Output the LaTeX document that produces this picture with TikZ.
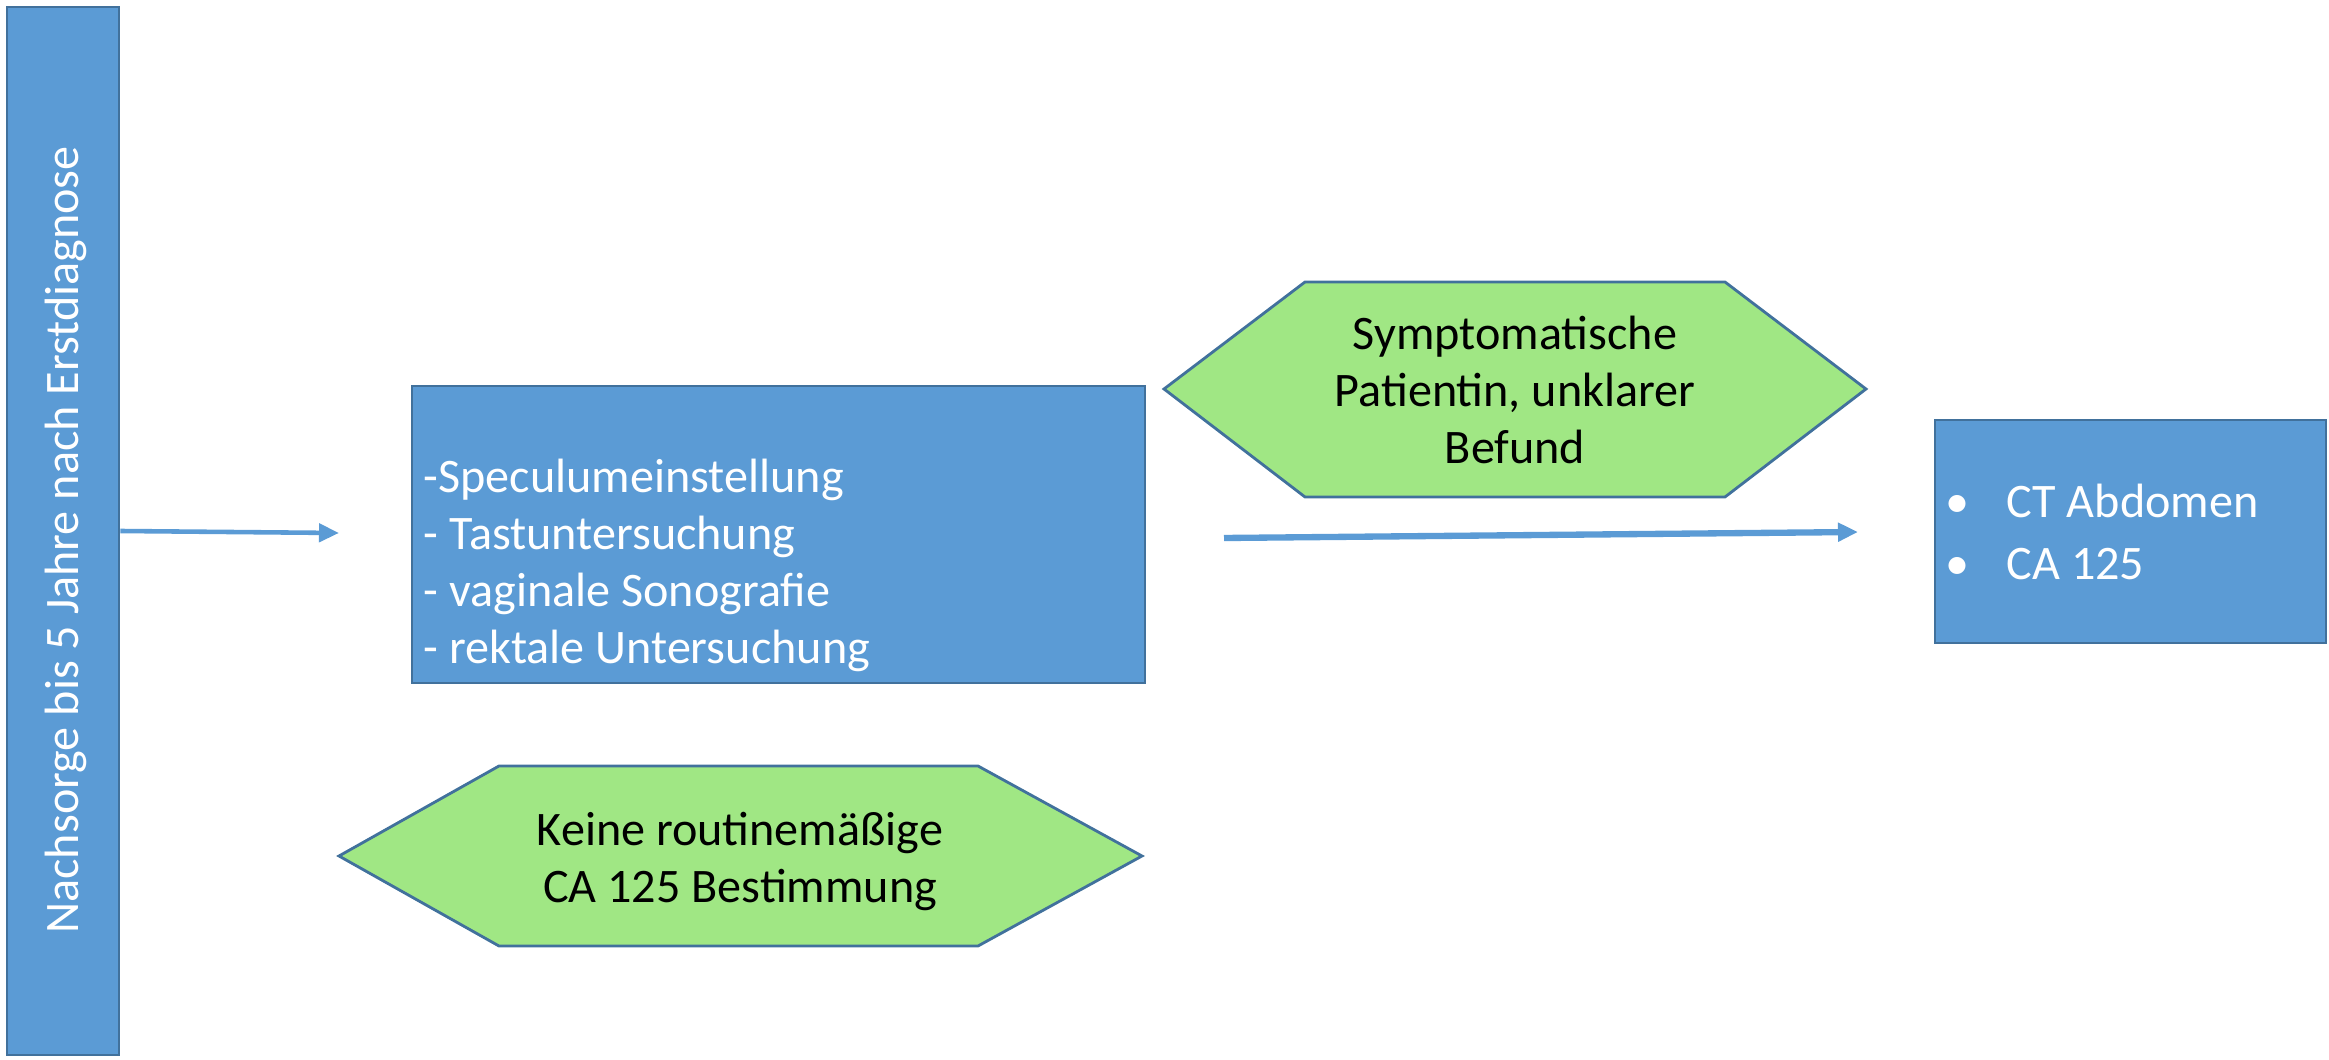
\documentclass[tikz,border=0pt]{standalone}
\usepackage{fontspec}
\setmainfont{Carlito}
\usetikzlibrary{arrows.meta}
\definecolor{boxblue}{HTML}{5B9BD5}
\definecolor{edgeblue}{HTML}{41719C}
\definecolor{hexgreen}{HTML}{A0E784}
\begin{document}
\begin{tikzpicture}[x=1cm,y=1cm,
  bluebox/.style={draw=edgeblue, line width=0.8pt, fill=boxblue, inner sep=0pt},
  hexshape/.style={draw=edgeblue, line width=0.8pt, fill=hexgreen, line join=miter},
  lbl/.style={inner sep=0pt, font=\fontsize{13.7}{16.3}\selectfont},
  flow/.style={draw=boxblue, -{Triangle[length=0.2cm,width=0.18cm]}}]
\useasboundingbox (0,0) rectangle (23.29,10.59);

% follow-up period bar
\node[bluebox, minimum width=1.12cm, minimum height=10.48cm] (bar) at (0.63,5.28) {};
\node[lbl, white, rotate=90] (bartxt) at (0.66,5.19) {Nachsorge bis 5 Jahre nach Erstdiagnose};

% routine examinations
\node[bluebox, minimum width=7.33cm, minimum height=2.97cm] (exam) at (7.785,5.245) {};
\node[lbl, white, align=left, anchor=north west] (examtxt) at (4.23,6.01)
  {-Speculumeinstellung\\- Tastuntersuchung\\- vaginale Sonografie\\- rektale Untersuchung};

\coordinate (a1end) at (3.39,5.26);
\draw[flow, line width=1.3pt] (bar.east) -- (a1end);

% condition hexagon
\draw[hexshape] (11.64,6.70) -- (13.05,7.77) -- (17.25,7.77) -- (18.66,6.70)
  -- (17.25,5.62) -- (13.05,5.62) -- cycle;
\node[lbl, align=center] (symp) at (15.15,6.69) {Symptomatische\\Patientin, unklarer\\Befund};

\coordinate (a2start) at (12.24,5.21);
\coordinate (a2end) at (18.58,5.27);
\draw[flow, line width=1.8pt] (a2start) -- (a2end);

% further diagnostics
\node[bluebox, minimum width=3.91cm, minimum height=2.23cm] (ct) at (21.305,5.275) {};
\node[lbl, white, anchor=west, align=left, font=\fontsize{13.7}{17.8}\selectfont] (cttxt) at (19.45,5.27)
  {\makebox[0.61cm][l]{\textbullet}CT Abdomen\\\makebox[0.61cm][l]{\textbullet}CA 125};

% note hexagon
\draw[hexshape] (3.39,2.03) -- (4.99,2.93) -- (9.78,2.93) -- (11.42,2.03)
  -- (9.78,1.13) -- (4.99,1.13) -- cycle;
\node[lbl, align=center] (noca) at (7.40,1.975) {Keine routinemäßige\\CA 125 Bestimmung};
\end{tikzpicture}
\end{document}
